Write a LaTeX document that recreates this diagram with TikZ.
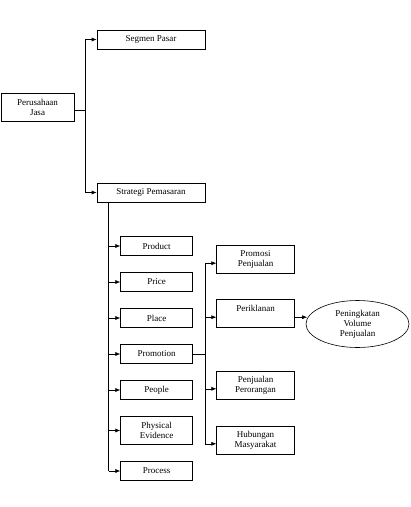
\documentclass[tikz,border=0pt]{standalone}
\usepackage{fontspec}
\setmainfont{Liberation Serif}
\usetikzlibrary{arrows.meta,calc,shapes}
\tikzset{>={Latex[length=5pt,width=4pt]}}
\tikzstyle{box}=[rectangle,draw=black,line width=0.6pt,align=center,inner sep=0pt,font=\fontsize{9}{10}\selectfont]
\tikzstyle{goal}=[ellipse,draw=black,line width=0.6pt,align=center,inner sep=0pt,font=\fontsize{9}{10}\selectfont]
\tikzstyle{link}=[line width=0.6pt]

\begin{document}
\begin{tikzpicture}[x=1pt,y=-1pt]
\useasboundingbox (0,0) rectangle (411,507);
\def \wide {108};
\def \pwid {72};
\def \qwid {77.6};
\def \hi {19};
\def \hii {28};

\node[box,minimum width=73,minimum height=\hii] (pj) at (37.5,107) {Perusahaan\\Jasa};
\node[box,minimum width=\wide,minimum height=\hi] (sp) at (151,39.5) {Segmen Pasar};
\node[box,minimum width=\wide,minimum height=\hi] (sm) at (151,192.5) {Strategi Pemasaran};

% bauran pemasaran 7P
\foreach \i/\y/\h/\txt in {1/246/\hi/Product, 2/282/\hi/Price, 3/318/\hi/Place, 4/354/\hi/Promotion,
	5/390/\hi/People, 6/430.5/\hii/{Physical\\Evidence}, 7/471/\hi/Process} {
	\node[box,minimum width=\pwid,minimum height=\h] (p\i) at (156.7,\y) {\txt};
};

% bauran promosi
\foreach \i/\y/\txt in {1/259.7/{Promosi\\Penjualan}, 2/313.7/{Periklanan\\\mbox{}},
	3/385.3/{Penjualan\\Perorangan}, 4/440.3/{Hubungan\\Masyarakat}} {
	\node[box,minimum width=\qwid,minimum height=\hii] (q\i) at (255.5,\y) {\txt};
	\coordinate (a\i) at ($(q\i.west)+(0,3.5)$);
};

\node[goal,minimum width=103,minimum height=47] (pv) at (357.5,324) {Peningkatan\\Volume\\Penjualan};

\coordinate (j1) at (85,110);
\draw[link] (pj.east |- j1) -- (j1);
\draw[link,->] (j1) |- (sp.west);
\draw[link,->] (j1) |- (sm.west);

\coordinate (j2) at ($(sm.south west)+(12,0)$);
\draw[link] (j2) -- (j2 |- p7.west);
\foreach \i in {1,...,7} {
	\draw[link,->] (j2 |- p\i.west) -- (p\i.west);
};

\coordinate (j3) at ($(p4.east)+(12,0)$);
\draw[link] (p4.east) -- (j3);
\draw[link] (j3 |- a1) -- (j3 |- a4);
\foreach \i in {1,...,4} {
	\draw[link,->] (j3 |- a\i) -- (a\i);
};

\coordinate (b2) at ($(q2.east)+(0,3.5)$);
\draw[link,->,shorten >=-1.5pt] (b2) -- (b2 -| pv.west);

\end{tikzpicture}
\end{document}
